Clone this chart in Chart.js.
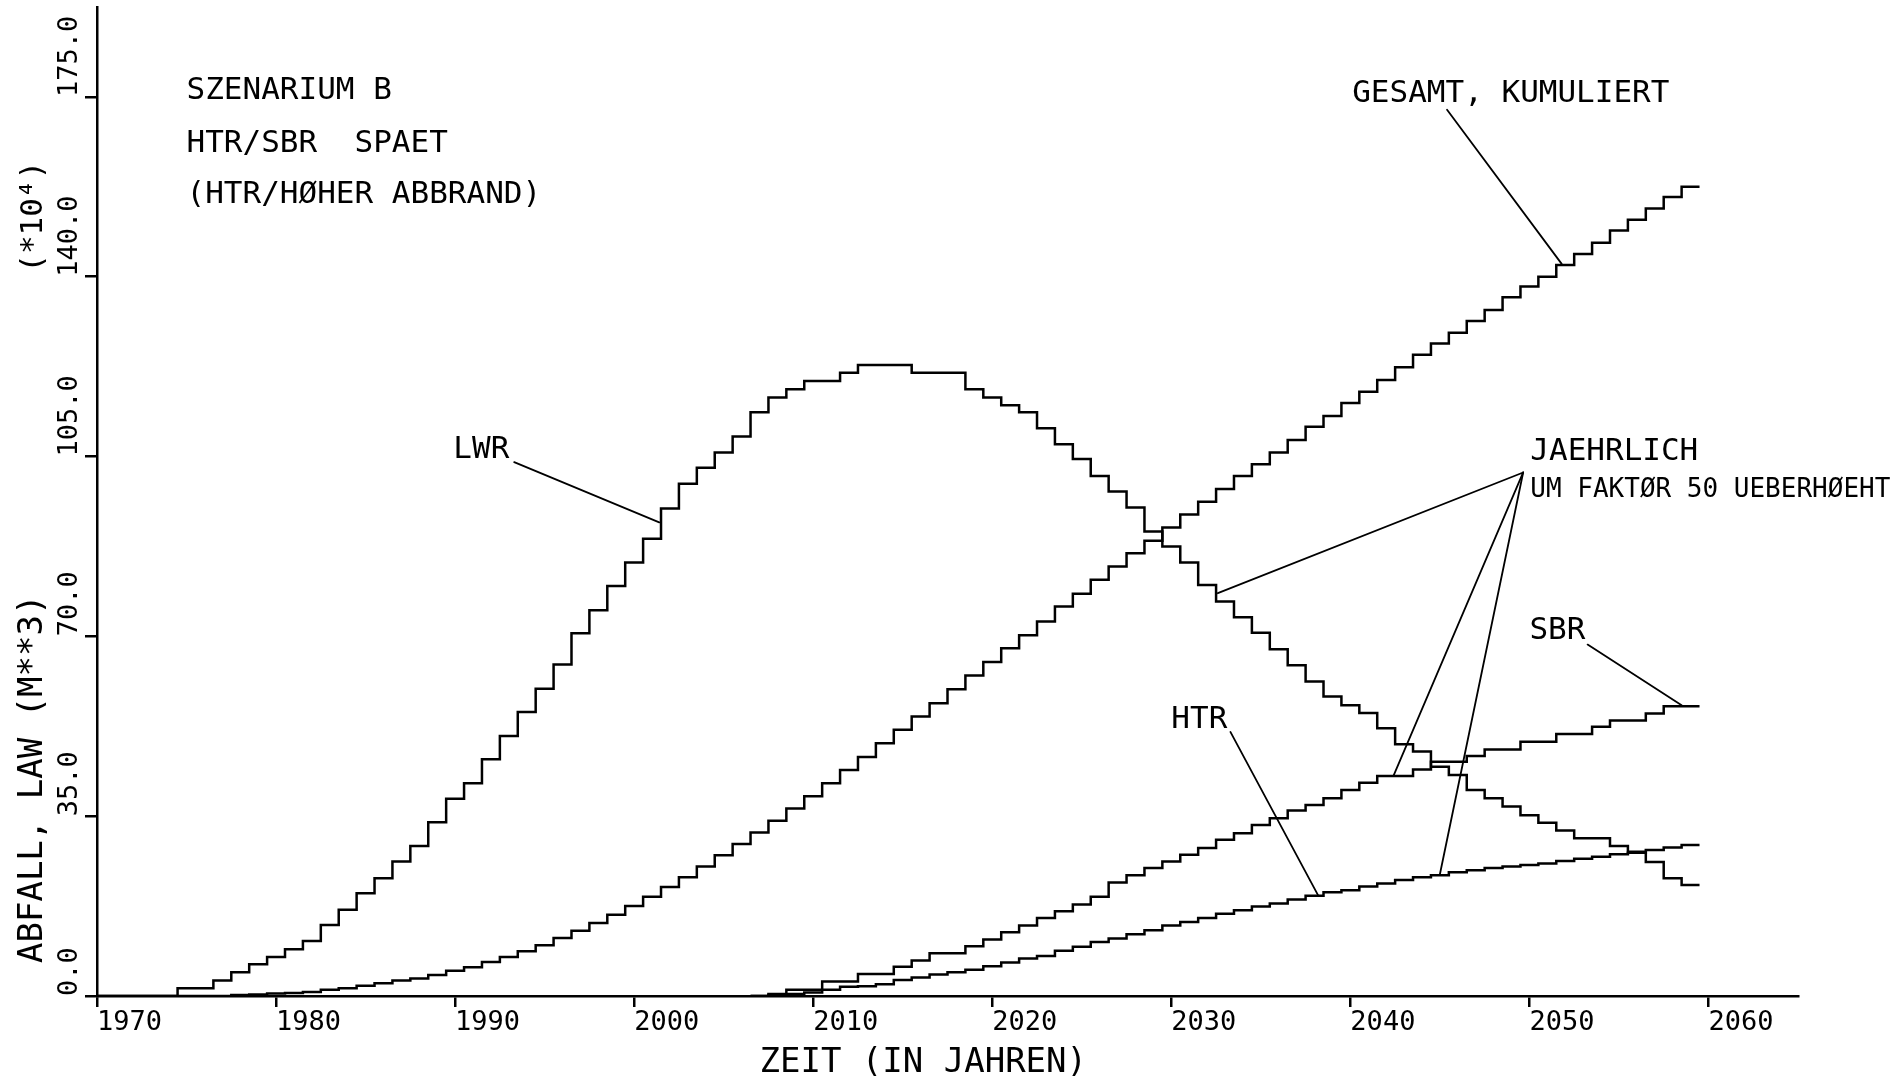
<!DOCTYPE html>
<html>
<head>
<meta charset="utf-8">
<title>Szenarium B – Abfall LAW</title>
<script src="https://cdn.jsdelivr.net/npm/chart.js@4/dist/chart.umd.min.js"></script>
<style>
  html, body { margin: 0; padding: 0; background: #fff; }
  canvas { display: block; }
</style>
</head>
<body>
<canvas id="chart" width="1897" height="1080"></canvas>
<script>
// Calendar years of the annual steps
const years = [
  1970, 1971, 1972, 1973, 1974, 1975, 1976, 1977, 1978, 1979,
  1980, 1981, 1982, 1983, 1984, 1985, 1986, 1987, 1988, 1989,
  1990, 1991, 1992, 1993, 1994, 1995, 1996, 1997, 1998, 1999,
  2000, 2001, 2002, 2003, 2004, 2005, 2006, 2007, 2008, 2009,
  2010, 2011, 2012, 2013, 2014, 2015, 2016, 2017, 2018, 2019,
  2020, 2021, 2022, 2023, 2024, 2025, 2026, 2027, 2028, 2029,
  2030, 2031, 2032, 2033, 2034, 2035, 2036, 2037, 2038, 2039,
  2040, 2041, 2042, 2043, 2044, 2045, 2046, 2047, 2048, 2049,
  2050, 2051, 2052, 2053, 2054, 2055, 2056, 2057, 2058, 2059
];

// LWR, annual waste (exaggerated by factor 50)
const lwr = [
  0, 0, 0, 0, 0,
  1.5, 1.5, 3.0, 4.6, 6.2,
  7.6, 9.1, 10.7, 13.8, 16.8,
  20.0, 22.9, 26.2, 29.2, 33.8,
  38.4, 41.4, 46.1, 50.6, 55.3,
  59.8, 64.5, 70.6, 75.1, 79.8,
  84.4, 89.0, 94.9, 99.7, 102.8,
  105.8, 108.9, 113.6, 116.5, 118.1,
  119.7, 119.7, 121.3, 122.8, 122.8,
  122.8, 121.3, 121.3, 121.3, 118.1,
  116.5, 115.0, 113.6, 110.5, 107.4,
  104.5, 101.2, 98.2, 95.1, 90.4,
  87.5, 84.4, 80.0, 76.8, 73.7,
  70.7, 67.5, 64.4, 61.2, 58.3,
  56.6, 55.1, 52.1, 49.0, 47.6,
  44.6, 43.0, 40.1, 38.5, 36.9,
  35.2, 33.7, 32.2, 30.7, 30.7,
  29.2, 28.1, 26.1, 22.9, 21.6
];

// Total, cumulative (units of 10^4 m^3)
const gesamt = [
  0, 0, 0, 0, 0,
  0, 0, 0, 0.2, 0.3,
  0.5, 0.6, 0.8, 1.2, 1.5,
  2.0, 2.5, 3.0, 3.4, 4.1,
  4.9, 5.6, 6.6, 7.6, 8.7,
  9.9, 11.3, 12.7, 14.2, 15.8,
  17.5, 19.3, 21.2, 23.1, 25.2,
  27.4, 29.6, 31.8, 34.1, 36.5,
  38.9, 41.4, 44.0, 46.5, 49.2,
  51.8, 54.4, 57.0, 59.7, 62.4,
  65.0, 67.7, 70.2, 72.9, 75.8,
  78.3, 81.0, 83.6, 86.2, 88.6,
  91.2, 93.7, 96.2, 98.7, 101.2,
  103.5, 105.8, 108.2, 110.8, 112.9,
  115.4, 117.6, 119.9, 122.4, 124.8,
  127.0, 129.1, 131.4, 133.5, 136.0,
  138.1, 140.0, 142.3, 144.4, 146.6,
  149.0, 151.1, 153.3, 155.5, 157.5
];

// SBR, annual waste (exaggerated by factor 50)
const sbr = [
  null, null, null, null, null,
  null, null, null, null, null,
  null, null, null, null, null,
  null, null, null, null, null,
  null, null, null, null, null,
  null, null, null, null, null,
  null, null, null, null, null,
  null, null, 0, 0.4, 1.2,
  1.2, 2.8, 2.8, 4.3, 4.3,
  5.7, 6.9, 8.3, 8.3, 9.7,
  11.0, 12.4, 13.7, 15.2, 16.5,
  17.8, 19.3, 22.1, 23.5, 24.9,
  26.2, 27.5, 28.8, 30.4, 31.7,
  33.3, 34.6, 36.1, 37.2, 38.5,
  40.1, 41.5, 42.8, 42.8, 44.1,
  45.6, 45.6, 46.7, 48.0, 48.0,
  49.5, 49.5, 51.0, 51.0, 52.4,
  53.6, 53.6, 55.0, 56.4, 56.4
];

// HTR, annual waste (exaggerated by factor 50)
const htr = [
  null, null, null, null, null,
  null, null, null, null, null,
  null, null, null, null, null,
  null, null, null, null, null,
  null, null, null, null, null,
  null, null, null, null, null,
  null, null, null, null, null,
  null, null, 0, 0.2, 0.4,
  0.7, 1.2, 1.8, 1.9, 2.3,
  3.1, 3.6, 4.2, 4.6, 5.1,
  5.8, 6.5, 7.3, 7.8, 8.8,
  9.6, 10.5, 11.2, 12.0, 12.8,
  13.7, 14.4, 15.2, 16.0, 16.7,
  17.4, 18.0, 18.8, 19.5, 20.2,
  20.6, 21.3, 21.9, 22.6, 23.1,
  23.5, 24.1, 24.5, 24.9, 25.2,
  25.5, 25.8, 26.3, 26.7, 27.1,
  27.6, 27.9, 28.4, 28.9, 29.4
];

// Axis ticks
const xTickValues = [1970, 1980, 1990, 2000, 2010, 2020, 2030, 2040, 2050, 2060];
const xTickLabels = ['1970', '1980', '1990', '2000', '2010', '2020', '2030', '2040', '2050', '2060'];
const yTickValues = [0, 35, 70, 105, 140, 175];
const yTickLabels = ['0.0', '35.0', '70.0', '105.0', '140.0', '175.0'];

const FONT = "'DejaVu Sans Mono', 'Liberation Mono', monospace";

// Each annual value covers the year from Y-0.5 to Y+0.5
function stepPoints(values) {
  const pts = years.map((yr, i) => ({ x: yr - 0.5, y: values[i] }));
  pts.push({ x: years[years.length - 1] + 0.5, y: values[values.length - 1] });
  return pts;
}

// Text labels (left edge / baseline in axis units)
const notes = [
  { text: 'SZENARIUM B',          at: [1975.0, 174.6], size: 31 },
  { text: 'HTR/SBR  SPAET',       at: [1975.0, 164.3], size: 31 },
  { text: '(HTR/HØHER ABBRAND)',  at: [1975.0, 154.4], size: 31 },
  { text: 'GESAMT, KUMULIERT',    at: [2040.1, 174.1], size: 31 },
  { text: 'LWR',                  at: [1989.9, 104.7], size: 31 },
  { text: 'JAEHRLICH',            at: [2050.05, 104.3], size: 31 },
  { text: 'UM FAKTØR 50 UEBERHØEHT', at: [2050.05, 97.1], size: 26 },
  { text: 'SBR',                  at: [2050.0, 69.5], size: 31 },
  { text: 'HTR',                  at: [2030.0, 52.2], size: 31 }
];

// Leader lines from labels to the curves (axis units)
const leaders = [
  [[1993.3, 103.9], [2001.4, 92.2]],
  [[2045.4, 172.5], [2051.8, 142.5]],
  [[2049.65, 101.9], [2032.6, 78.4]],
  [[2049.65, 101.9], [2042.4, 42.8]],
  [[2049.65, 101.9], [2045.0, 23.7]],
  [[2053.25, 68.4], [2058.5, 56.6]],
  [[2033.3, 51.4], [2038.2, 19.6]]
];

const notePlugin = {
  id: 'notes',
  afterDraw(chart) {
    const { ctx, chartArea, scales: { x, y } } = chart;
    const px = v => x.getPixelForValue(v);
    const py = v => y.getPixelForValue(v);
    ctx.save();
    ctx.fillStyle = '#000';
    ctx.strokeStyle = '#000';

    ctx.textAlign = 'left';
    ctx.textBaseline = 'alphabetic';
    for (const n of notes) {
      ctx.font = n.size + 'px ' + FONT;
      ctx.fillText(n.text, px(n.at[0]), py(n.at[1]));
    }

    ctx.lineWidth = 1.8;
    ctx.lineCap = 'round';
    for (const [a, b] of leaders) {
      ctx.beginPath();
      ctx.moveTo(px(a[0]), py(a[1]));
      ctx.lineTo(px(b[0]), py(b[1]));
      ctx.stroke();
    }

    // axis titles
    ctx.font = '34px ' + FONT;
    ctx.fillText('ZEIT (IN JAHREN)', px(2007.0), chartArea.bottom + 76);

    const vertical = (text, cx, cy, size) => {
      ctx.save();
      ctx.font = size + 'px ' + FONT;
      ctx.translate(cx, cy);
      ctx.rotate(-Math.PI / 2);
      ctx.textAlign = 'left';
      ctx.textBaseline = 'middle';
      ctx.fillText(text, 0, 0);
      ctx.restore();
    };
    vertical('ABFALL, LAW (M**3)', chartArea.left - 64, chartArea.bottom - 33, 34);
    vertical('(*10⁴)', chartArea.left - 63, py(140) - 4, 31);
    ctx.restore();
  }
};

const lineStyle = {
  borderColor: '#000',
  borderWidth: 2.5,
  pointRadius: 0,
  fill: false,
  stepped: 'before',
  spanGaps: false,
  borderJoinStyle: 'miter'
};

new Chart(document.getElementById('chart'), {
  type: 'line',
  data: {
    datasets: [
      Object.assign({ label: 'LWR', data: stepPoints(lwr) }, lineStyle),
      Object.assign({ label: 'GESAMT, KUMULIERT', data: stepPoints(gesamt) }, lineStyle),
      Object.assign({ label: 'SBR', data: stepPoints(sbr) }, lineStyle),
      Object.assign({ label: 'HTR', data: stepPoints(htr) }, lineStyle)
    ]
  },
  options: {
    responsive: false,
    animation: false,
    devicePixelRatio: 1,
    layout: { padding: { left: 56, top: 7, right: 99, bottom: 0 } },
    plugins: { legend: { display: false }, tooltip: { enabled: false } },
    scales: {
      x: {
        type: 'linear',
        position: 'bottom',
        min: 1970,
        max: 2065,
        afterBuildTicks: s => { s.ticks = xTickValues.map(v => ({ value: v })); },
        afterFit: s => { s.height = 84; s.paddingLeft = 0; s.paddingRight = 0; },
        ticks: {
          callback: (v, i) => xTickLabels[i],
          align: 'start',
          padding: 0,
          minRotation: 0,
          maxRotation: 0,
          autoSkip: false,
          color: '#000',
          font: { family: FONT, size: 27 }
        },
        grid: { drawOnChartArea: false, drawTicks: true, tickLength: 11, tickWidth: 2.5, tickColor: '#000', color: '#000', lineWidth: 2.5 },
        border: { display: true, color: '#000', width: 2.5 }
      },
      y: {
        type: 'linear',
        position: 'left',
        min: 0,
        max: 192.5,
        afterBuildTicks: s => { s.ticks = yTickValues.map(v => ({ value: v })); },
        afterFit: s => { s.width = 41; s.paddingTop = 0; s.paddingBottom = 0; },
        ticks: {
          callback: (v, i) => yTickLabels[i],
          crossAlign: 'far',
          align: 'start',
          padding: 0,
          minRotation: 90,
          maxRotation: 90,
          autoSkip: false,
          color: '#000',
          font: { family: FONT, size: 27 }
        },
        grid: { drawOnChartArea: false, drawTicks: true, tickLength: 12, tickWidth: 2.5, tickColor: '#000', color: '#000', lineWidth: 2.5 },
        border: { display: true, color: '#000', width: 2.5 }
      }
    }
  },
  plugins: [notePlugin]
});
</script>
</body>
</html>
